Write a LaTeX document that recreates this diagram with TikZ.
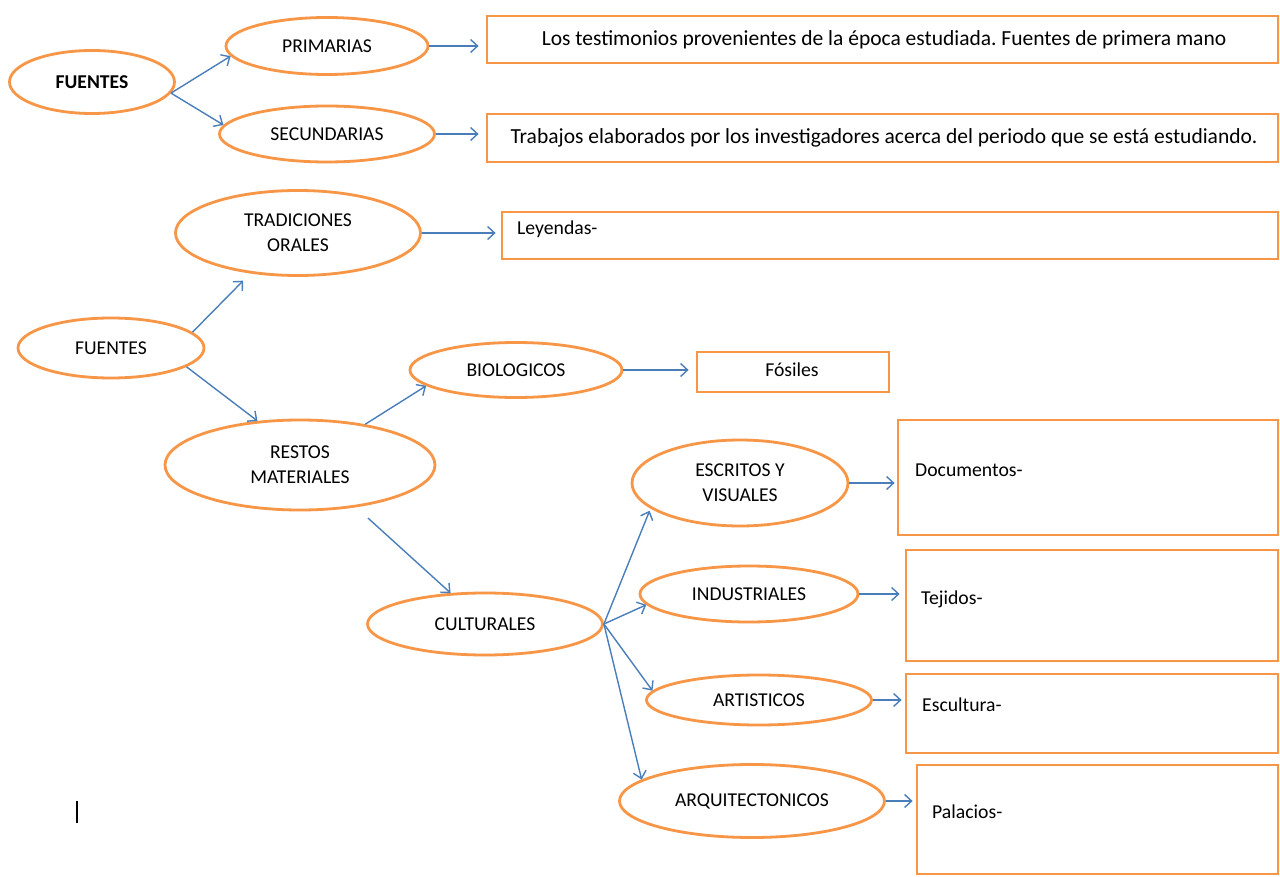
\documentclass[tikz,border=0pt]{standalone}
\usepackage{fontspec}
\setmainfont{Carlito}
\usetikzlibrary{shapes.geometric,arrows.meta}
\definecolor{orng}{HTML}{F79646}
\definecolor{arrblue}{HTML}{4A7EBB}
\frenchspacing
\begin{document}
\begin{tikzpicture}[x=1pt,y=-1pt,
  oval/.style={ellipse,draw=orng,line width=2.8pt,inner sep=0pt,align=center,font=\fontsize{19.6}{25}\selectfont},
  box/.style={rectangle,draw=orng,line width=2.8pt,inner sep=0pt},
  boxtxt/.style={font=\fontsize{21.5}{25}\selectfont,inner sep=0pt},
  lefttxt/.style={font=\fontsize{19.7}{23}\selectfont,inner sep=0pt,anchor=west},
  arr/.style={draw=arrblue,line width=1.4pt,-{Straight Barb[length=7pt,width=13pt]}}]
\useasboundingbox (0,0) rectangle (1280,877);
\fill[white] (0,0) rectangle (1280,877);

% top section
\node[oval,minimum width=165pt,minimum height=63pt,font=\fontsize{19.6}{25}\selectfont\bfseries] (f1) at (92,82) {FUENTES};
\node[oval,minimum width=202pt,minimum height=57pt] (prim) at (327,46) {PRIMARIAS};
\node[oval,minimum width=215pt,minimum height=56pt] (sec) at (327,134) {SECUNDARIAS};
\node[box,minimum width=791pt,minimum height=47pt] (b1) at (882.5,39.5) {};
\node[boxtxt] (t1) at (884,40) {Los testimonios provenientes de la época estudiada. Fuentes de primera mano};
\node[box,minimum width=791pt,minimum height=48pt] (b2) at (882.5,138) {};
\node[boxtxt] (t2) at (884,138) {Trabajos elaborados por los investigadores acerca del periodo que se está estudiando.};

\draw[arr] (f1.-8) -- (prim.186);
\draw[arr] (f1.-8) -- (sec.175);
\draw[arr,shorten >=7pt] (prim.east) -- (prim.east -| b1.west);
\draw[arr,shorten >=7pt] (sec.east) -- (sec.east -| b2.west);

% second section
\node[oval,minimum width=245pt,minimum height=85pt] (trad) at (298,233) {TRADICIONES\\ORALES};
\node[box,minimum width=776pt,minimum height=47pt] (ley) at (890,235.5) {};
\node[lefttxt] (tley) at (517,229) {Leyendas-};
\node[oval,minimum width=186pt,minimum height=60pt] (f2) at (111,348) {FUENTES};
\node[oval,minimum width=212pt,minimum height=55pt] (bio) at (516,370) {BIOLOGICOS};
\node[box,minimum width=192pt,minimum height=40pt] (fos) at (793,372) {};
\node[lefttxt,anchor=center] (tfos) at (792,370) {Fósiles};
\node[oval,minimum width=270pt,minimum height=90pt] (rest) at (300,465) {RESTOS\\MATERIALES};
\node[oval,minimum width=235pt,minimum height=62pt] (cult) at (485,624) {CULTURALES};
\node[oval,minimum width=216pt,minimum height=86pt] (esc) at (740,483) {ESCRITOS Y\\VISUALES};
\node[oval,minimum width=218pt,minimum height=56pt] (ind) at (749,594) {INDUSTRIALES};
\node[oval,minimum width=225pt,minimum height=50pt] (art) at (759,700) {ARTISTICOS};
\node[oval,minimum width=265pt,minimum height=73pt] (arq) at (752,801) {ARQUITECTONICOS};

\node[box,minimum width=380pt,minimum height=115pt] (doc) at (1088,477.5) {};
\node[lefttxt] (tdoc) at (915,470) {Documentos-};
\node[box,minimum width=372pt,minimum height=111pt] (tej) at (1092,605.5) {};
\node[lefttxt] (ttej) at (921,599) {Tejidos-};
\node[box,minimum width=372pt,minimum height=79pt] (escb) at (1092,713.5) {};
\node[lefttxt] (tescb) at (922,705) {Escultura-};
\node[box,minimum width=361pt,minimum height=109pt] (pal) at (1097.5,819.5) {};
\node[lefttxt] (tpal) at (932,812) {Palacios-};

\draw[arr] (f2.11) -- ([shift={(-8,7)}]trad.221);
\draw[arr] (f2.-14) -- (rest.134);
\draw[arr,shorten >=5pt] (trad.east) -- (trad.east -| ley.west);
\draw[arr] (rest.32) -- (bio.190);
\draw[arr,shorten <=16pt] (rest.-37) -- (cult.138);
\draw[arr,shorten >=7pt] (bio.east) -- (bio.east -| fos.west);
\draw[arr] (cult.east) -- ([shift={(-5,0)}]esc.198);
\draw[arr] (cult.east) -- (ind.186);
\draw[arr] (cult.east) -- (art.175);
\draw[arr] (cult.east) -- (arq.169);
\draw[arr,shorten >=2pt] (esc.east) -- (esc.east -| doc.west);
\draw[arr,shorten >=5pt] (ind.east) -- (ind.east -| tej.west);
\draw[arr,shorten >=3pt] (art.east) -- (art.east -| escb.west);
\draw[arr,shorten >=3pt] (arq.east) -- (arq.east -| pal.west);

% text cursor mark
\draw[line width=1.3pt] (77,801) -- (77,823);
\end{tikzpicture}
\end{document}
